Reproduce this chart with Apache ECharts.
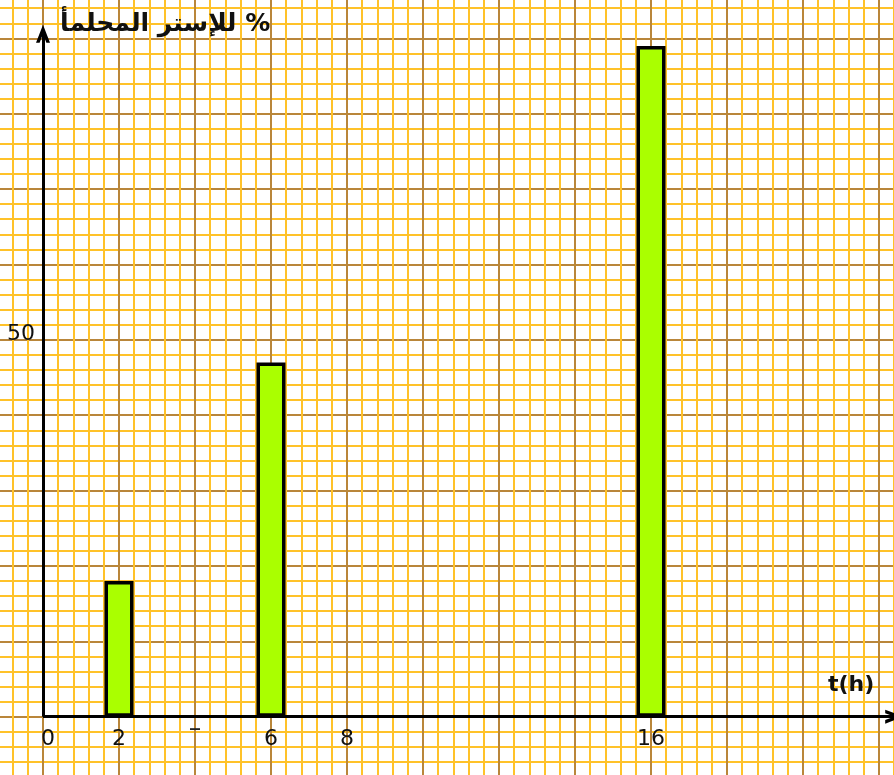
<!DOCTYPE html>
<html>
<head>
<meta charset="utf-8">
<script src="https://cdn.jsdelivr.net/npm/echarts@6/dist/echarts.min.js"></script>
<style>
  html, body { margin: 0; padding: 0; background: #fff; }
  #chart { width: 894px; height: 775px; }
</style>
</head>
<body>
<div id="chart"></div>
<script>
// data
const times = [2, 6, 16]
const percents = [18, 47, 89]
const xTickLabels = { 0: '0', 2: '2', 4: '‾', 6: '6', 8: '8', 16: '16' }
const yTickLabels = { 50: '50' }
const yTitle = 'للإستر المحلمأ %'
const xTitle = 't(h)'

const minorColor = '#ffc229'
const majorColor = '#b9863a'
const arrow = 'path://M5,0 L10,14 L7.4,14 L5,7 L2.6,14 L0,14 Z'

const chart = echarts.init(document.getElementById('chart'))

const option = {
  backgroundColor: '#fff',
  animation: false,
  grid: { left: -33, right: -61, top: -37, bottom: -17, outerBoundsMode: 'none', containLabel: false },
  xAxis: {
    type: 'value',
    min: -2,
    max: 24,
    interval: 2,
    offset: -74,
    axisLine: { show: false, onZero: false },
    axisTick: { show: false },
    splitLine: { show: true, lineStyle: { color: majorColor, width: 2 } },
    minorTick: { show: false, splitNumber: 5 },
    minorSplitLine: { show: true, lineStyle: { color: minorColor, width: 2 } },
    axisLabel: {
      margin: 10,
      fontFamily: 'DejaVu Sans',
      fontSize: 22,
      color: '#111',
      formatter: v => {
        const t = xTickLabels[v]
        if (t === undefined) return ''
        if (v === 4) return '{d|' + t + '}'
        if (v === 0) return '{z|0}'
        return t
      },
      rich: {
        d: { fontSize: 20, fontWeight: 'bold', color: '#222' },
        z: { fontFamily: 'DejaVu Sans', fontSize: 22, color: '#111', padding: [0, 0, 0, 10] }
      }
    }
  },
  yAxis: {
    type: 'value',
    min: -10,
    max: 100,
    interval: 10,
    offset: -76,
    axisLine: { show: false, onZero: false },
    axisTick: { show: false },
    splitLine: { show: true, lineStyle: { color: majorColor, width: 2 } },
    minorTick: { show: false, splitNumber: 5 },
    minorSplitLine: { show: true, lineStyle: { color: minorColor, width: 2 } },
    axisLabel: {
      margin: 8,
      fontFamily: 'DejaVu Sans',
      fontSize: 22,
      color: '#111',
      formatter: v => yTickLabels[v] ? '{a|' + yTickLabels[v] + '}' : '',
      rich: {
        a: { fontFamily: 'DejaVu Sans', fontSize: 22, color: '#111', padding: [0, 0, 12, 0] }
      }
    }
  },
  graphic: [
    {
      type: 'text', left: 60, top: 12, z: 10,
      style: { text: yTitle, font: 'bold 25px "DejaVu Sans"', fill: '#111' }
    },
    {
      type: 'text', left: 828, top: 674, z: 10,
      style: { text: xTitle, font: 'bold 22px "DejaVu Sans"', fill: '#111' }
    }
  ],
  series: [
    {
      type: 'bar',
      data: times.map((t, i) => [t, percents[i]]),
      barWidth: 29,
      itemStyle: { color: '#aaff00', borderColor: '#000', borderWidth: 3.5 },
      markLine: {
        silent: true,
        symbol: ['none', arrow],
        symbolSize: [14, 18],
        label: { show: false },
        lineStyle: { color: '#000', width: 3, type: 'solid' },
        data: [
          [{ coord: [0, 0] }, { coord: [22.4, 0] }],
          [{ coord: [0, 0] }, { coord: [0, 90.6] }]
        ]
      }
    }
  ]
}

chart.setOption(option)
</script>
</body>
</html>
